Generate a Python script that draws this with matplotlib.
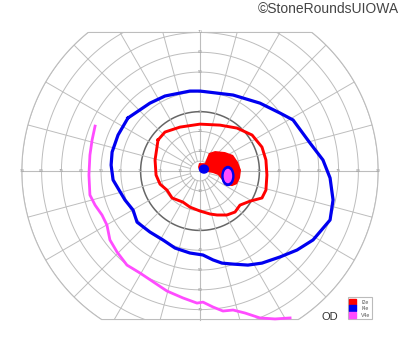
import numpy as np
import matplotlib
matplotlib.use("Agg")
import matplotlib.pyplot as plt
from matplotlib.patches import Polygon, Ellipse, Patch

plt.rcParams['font.family'] = ['Liberation Sans', 'DejaVu Sans']

# isopters, (x, y) in degrees of visual field
i4e_x = [-36.4, -25.3, -17.7, -5.1, 0.0, 16.7, 30.3, 40.4, 47.0, 55.6, 62.1, 65.7, 67.2, 65.7,
         57.1, 49.0, 40.4, 31.3, 24.2, 16.7, 11.1, 6.6, 1.5, -5.1, -12.6, -18.7, -25.3, -31.8,
         -33.8, -37.9, -43.9, -44.9, -44.4, -41.4, -36.4]
i4e_y = [26.8, 34.3, 37.9, 40.4, 40.4, 38.4, 34.3, 29.3, 25.8, 14.1, 5.6, -3.5, -14.6, -24.7,
         -34.8, -39.9, -43.4, -46.5, -47.5, -47.0, -46.5, -44.9, -42.4, -41.4, -38.9, -34.8, -30.8, -25.8,
         -19.7, -14.6, -4.5, 3.0, 9.6, 18.2, 26.8]

v4e_x = [-53.0, -54.5, -55.6, -56.1, -55.6, -53.0, -49.5, -47.0, -45.5, -41.9, -36.9, -30.3,
         -22.7, -16.7, -8.6, -1.5, 1.5, 6.6, 11.6, 16.7, 22.7, 30.3, 37.9, 45.5]
v4e_y = [22.7, 15.7, 8.1, -2.0, -12.1, -17.2, -22.2, -27.3, -34.8, -40.9, -47.5, -51.5,
         -56.6, -60.6, -64.1, -66.7, -66.2, -68.7, -70.7, -70.2, -71.7, -74.2, -74.7, -74.2]

i2e_x = [-21.2, -17.7, -10.1, 0.0, 10.1, 18.7, 26.3, 31.3, 33.3, 33.8, 33.3, 31.3, 25.3, 20.2,
         17.7, 13.6, 8.6, 5.1, 0.0, -5.1, -8.6, -14.1, -16.7, -20.2, -22.2, -22.7, -21.2]
i2e_y = [15.7, 19.7, 22.2, 23.7, 23.2, 21.7, 18.2, 12.1, 5.6, -2.0, -9.6, -13.6, -15.2, -17.2,
         -20.7, -22.2, -22.2, -21.7, -20.2, -18.2, -15.7, -13.6, -9.6, -6.6, -2.0, 5.6, 15.7]

# central I2e area (filled)
i2e_fill_x = [-0.5, 2.5, 4.5, 7.6, 12.6, 16.7, 19.2, 20.7, 20.2, 18.7, 16.2, 12.6, 11.1, 9.1,
              6.6, 4.0, 1.5, -0.5, -1.0]
i2e_fill_y = [4.0, 4.0, 9.1, 10.1, 9.6, 8.1, 4.5, 0.5, -3.5, -6.6, -7.6, -7.1, -4.5, -2.0,
              -1.0, -0.5, -0.5, 0.5, 2.0]

# small central areas: (x, y, width, height) in degrees
i4e_spots = [(2.0, 1.0, 4.5, 4.0), (14.1, -2.5, 6.0, 9.6)]
v4e_spots = [(14.1, -2.5, 3.6, 6.6)]

rings = [10, 20, 30, 40, 50, 60, 70, 80, 90]
meridians = np.arange(0, 360, 15)
top_lim, bottom_lim = 70, -75

RED = '#ff0000'
BLUE = '#0000f0'
MAG = '#ff4cff'
GRID = '#bdbdbd'

fig = plt.figure(figsize=(4, 3.52), dpi=100)
ax = fig.add_axes([0, 0, 1, 1])
ax.set_xlim(-101.0, 101.0)
ax.set_ylim(-91.4, 86.4)
ax.set_aspect('equal')
ax.axis('off')

# clipped chart area
t = np.linspace(0, 2 * np.pi, 721)
cx = 90 * np.cos(t)
cy = np.clip(90 * np.sin(t), bottom_lim, top_lim)
area = Polygon(np.column_stack([cx, cy]), closed=True, fill=False, edgecolor=GRID, lw=0.8)
ax.add_patch(area)

for r in [5] + rings:
    c = '#666666' if r == 30 else GRID
    lw = 1.1 if r == 30 else 0.7
    ln, = ax.plot(r * np.cos(t), r * np.sin(t), color=c, lw=lw, zorder=1)
    ln.set_clip_path(area)

for a in meridians:
    a = np.deg2rad(a)
    ln, = ax.plot([5 * np.cos(a), 90 * np.cos(a)], [5 * np.sin(a), 90 * np.sin(a)],
                  color=GRID, lw=0.7, zorder=1)
    ln.set_clip_path(area)

ax.plot([-90, 90], [0, 0], color=GRID, lw=0.8, zorder=1)
ln, = ax.plot([0, 0], [bottom_lim, top_lim], color=GRID, lw=0.8, zorder=1)

for r in rings:
    for s in (-1, 1):
        ax.text(s * r, 0, str(r), fontsize=3.2, color='#9a9a9a', ha='center', va='center', zorder=2)
    if r <= 70:
        ax.text(0, r, str(r), fontsize=3.2, color='#9a9a9a', ha='center', va='center', zorder=2)
        ax.text(0, -r, str(r), fontsize=3.2, color='#9a9a9a', ha='center', va='center', zorder=2)

# isopters
ax.fill(i2e_fill_x, i2e_fill_y, color=RED, lw=0, zorder=3)
ax.plot(i2e_x, i2e_y, color=RED, lw=2.1, zorder=4, solid_joinstyle='round')
ax.plot(i4e_x, i4e_y, color=BLUE, lw=2.3, zorder=4, solid_joinstyle='round')
ax.plot(v4e_x, v4e_y, color=MAG, lw=2.0, zorder=4, solid_joinstyle='round')
for x, y, w, h in i4e_spots:
    ax.add_patch(Ellipse((x, y), w, h, color=BLUE, zorder=5))
for x, y, w, h in v4e_spots:
    ax.add_patch(Ellipse((x, y), w, h, color=MAG, zorder=6))

handles = [Patch(color=RED, label='I2e'), Patch(color=BLUE, label='I4e'), Patch(color=MAG, label='V4e')]
leg = fig.legend(handles=handles, loc='lower left', bbox_to_anchor=(345 / 400, 1 - 322 / 352),
                 fontsize=3.8, frameon=True, fancybox=False, edgecolor='#aaaaaa',
                 handlelength=1.3, handleheight=1.3, handletextpad=1.0, labelspacing=0.15,
                 borderpad=0.3, labelcolor='#555555')
leg.get_frame().set_linewidth(0.8)

fig.text(322 / 400, 1 - 317 / 352, 'OD', fontsize=8, color='#333333', ha='left', va='center')
fig.text(0.997, 1 - 9 / 352, '©StoneRoundsUIOWA', fontsize=10, color='#444444', ha='right', va='center')

fig.savefig('out.png', dpi=100)
